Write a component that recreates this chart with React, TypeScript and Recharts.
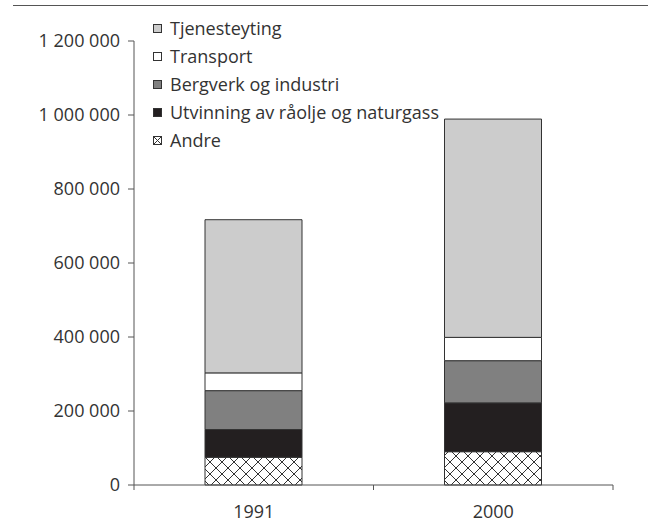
import React from 'react';
import { BarChart, Bar, XAxis, YAxis, Legend } from 'recharts';

const categories = ['1991', '2000'];
const andre = [75000, 90000];
const utvinning = [75000, 132000];
const bergverk = [105000, 114000];
const transport = [48000, 63000];
const tjenesteyting = [414000, 590000];
const yTicks = [0, 200000, 400000, 600000, 800000, 1000000, 1200000];
// legend reads top-down, opposite of the stack
const legendOrder = ['Tjenesteyting', 'Transport', 'Bergverk og industri', 'Utvinning av råolje og naturgass', 'Andre'];

const data = categories.map((year, i) => ({
  year,
  andre: andre[i],
  utvinning: utvinning[i],
  bergverk: bergverk[i],
  transport: transport[i],
  tjenesteyting: tjenesteyting[i],
}));

const FONT = "'Open Sans', sans-serif";
const TEXT = '#333333';
const AXIS = '#555555';
const EDGE = '#333333';

const fmt = (v: number) => String(v).replace(/\B(?=(\d{3})+(?!\d))/g, ' ');

// category label plus tick marks on the band edges (Excel style)
function YearTick(props: any) {
  const { x, y, payload, index } = props;
  const half = payload?.offset ?? 0;
  return (
    <g>
      {index === 0 && <line x1={x - half} y1={y} x2={x - half} y2={y + 5} stroke={AXIS} />}
      <line x1={x + half} y1={y} x2={x + half} y2={y + 5} stroke={AXIS} />
      <text x={x} y={y + 20} dy="0.71em" textAnchor="middle" fill={TEXT} fontSize={18} fontFamily={FONT}>
        {payload.value}
      </text>
    </g>
  );
}

function LegendBox(props: any) {
  const items = [...(props.payload || [])].sort(
    (a: any, b: any) => legendOrder.indexOf(a.value) - legendOrder.indexOf(b.value),
  );
  return (
    <div style={{ fontFamily: FONT, fontSize: 18, color: TEXT }}>
      {items.map((entry: any) => {
        const hatched = String(entry.color).startsWith('url');
        return (
          <div key={entry.value} style={{ display: 'flex', alignItems: 'center', height: 28, whiteSpace: 'nowrap' }}>
            <svg width={9} height={9} style={{ marginRight: 8, flexShrink: 0 }}>
              <rect x={0.5} y={0.5} width={8} height={8} fill={hatched ? '#fff' : entry.color} stroke={EDGE} strokeWidth={1} />
              {hatched && (
                <>
                  <line x1={0.5} y1={0.5} x2={8.5} y2={8.5} stroke={EDGE} strokeWidth={1} />
                  <line x1={8.5} y1={0.5} x2={0.5} y2={8.5} stroke={EDGE} strokeWidth={1} />
                </>
              )}
            </svg>
            <span>{entry.value}</span>
          </div>
        );
      })}
    </div>
  );
}

export default function App() {
  return (
    <div style={{ position: 'absolute', left: 0, top: 0, width: 648, height: 526, background: '#fff', fontFamily: FONT }}>
      <div style={{ position: 'absolute', left: 13, top: 5, width: 635, borderTop: `1.5px solid ${AXIS}` }} />
      <BarChart width={648} height={526} data={data} margin={{ top: 41, right: 35, bottom: 0, left: 0 }}>
        <defs>
          <pattern id="hatch" patternUnits="userSpaceOnUse" width={12} height={12}>
            <rect width={12} height={12} fill="#fff" />
            <path d="M0,0 L12,12 M12,0 L0,12" stroke={EDGE} strokeWidth={1} />
          </pattern>
        </defs>
        <XAxis
          dataKey="year"
          height={41}
          stroke={AXIS}
          tickLine={false}
          tickSize={0}
          tickMargin={0}
          tick={<YearTick />}
        />
        <YAxis
          width={134}
          domain={[0, 1200000]}
          ticks={yTicks}
          interval={0}
          stroke={AXIS}
          tickSize={6}
          tickMargin={8}
          tickFormatter={fmt}
          tick={{ fill: TEXT, fontSize: 18, fontFamily: FONT }}
        />
        <Legend
          layout="vertical"
          align="center"
          verticalAlign="middle"
          wrapperStyle={{ left: 153, top: 14, width: 'auto' }}
          content={<LegendBox />}
        />
        <Bar dataKey="andre" name="Andre" stackId="a" fill="url(#hatch)" stroke={EDGE} strokeWidth={1} barSize={97} isAnimationActive={false} />
        <Bar dataKey="utvinning" name="Utvinning av råolje og naturgass" stackId="a" fill="#231f20" stroke={EDGE} strokeWidth={1} barSize={97} isAnimationActive={false} />
        <Bar dataKey="bergverk" name="Bergverk og industri" stackId="a" fill="#808080" stroke={EDGE} strokeWidth={1} barSize={97} isAnimationActive={false} />
        <Bar dataKey="transport" name="Transport" stackId="a" fill="#ffffff" stroke={EDGE} strokeWidth={1} barSize={97} isAnimationActive={false} />
        <Bar dataKey="tjenesteyting" name="Tjenesteyting" stackId="a" fill="#cccccc" stroke={EDGE} strokeWidth={1} barSize={97} isAnimationActive={false} />
      </BarChart>
    </div>
  );
}
